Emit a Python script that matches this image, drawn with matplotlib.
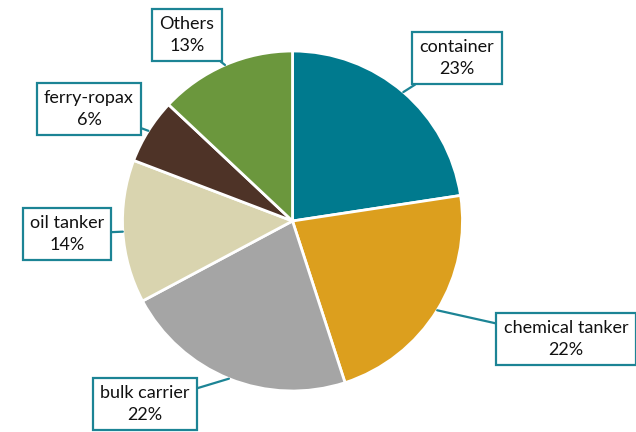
import numpy as np
import matplotlib
matplotlib.use("Agg")
import matplotlib.pyplot as plt

# ship type shares (clockwise from 12 o'clock)
labels = ["container", "chemical tanker", "bulk carrier", "oil tanker", "ferry-ropax", "Others"]
shares = [22.6, 22.4, 22.2, 13.6, 6.2, 13.0]
pct_text = ["23%", "22%", "22%", "14%", "6%", "13%"]
colors = ["#007A8E", "#DC9F1E", "#A5A5A5", "#D9D4AF", "#4E3327", "#6B973D"]

# label box centres in pixel space (x, y from top)
box_pos = [(457, 58), (566, 339), (145, 404), (67, 234), (89, 109), (187, 35)]

W, H = 636, 432
plt.rcParams['font.family'] = ['Lato', 'DejaVu Sans']

fig = plt.figure(figsize=(W / 100, H / 100), dpi=100)
ax = fig.add_axes([0, 0, 1, 1])

cx, cy, r = 292.5, H - 221, 170
wedges, _ = ax.pie(shares, colors=colors, startangle=90, counterclock=False,
                   center=(cx, cy), radius=r,
                   wedgeprops=dict(edgecolor="white", linewidth=2))

ax.set_xlim(0, W)
ax.set_ylim(0, H)
ax.set_aspect("equal")
ax.axis("off")

edge = "#1C8495"
for w, lab, pct, (bx, by) in zip(wedges, labels, pct_text, box_pos):
    mid = np.deg2rad((w.theta1 + w.theta2) / 2)
    tip = (cx + r * np.cos(mid), cy + r * np.sin(mid))
    ax.annotate(f"{lab}\n{pct}", xy=tip, xytext=(bx, H - by),
                ha="center", va="center", fontsize=13, color="#111111",
                linespacing=1.4,
                bbox=dict(boxstyle="square,pad=0.4", fc="white", ec=edge, lw=1.6),
                arrowprops=dict(arrowstyle="-", color=edge, lw=1.6,
                                shrinkA=0, shrinkB=0))

fig.savefig("out.png", dpi=100)
